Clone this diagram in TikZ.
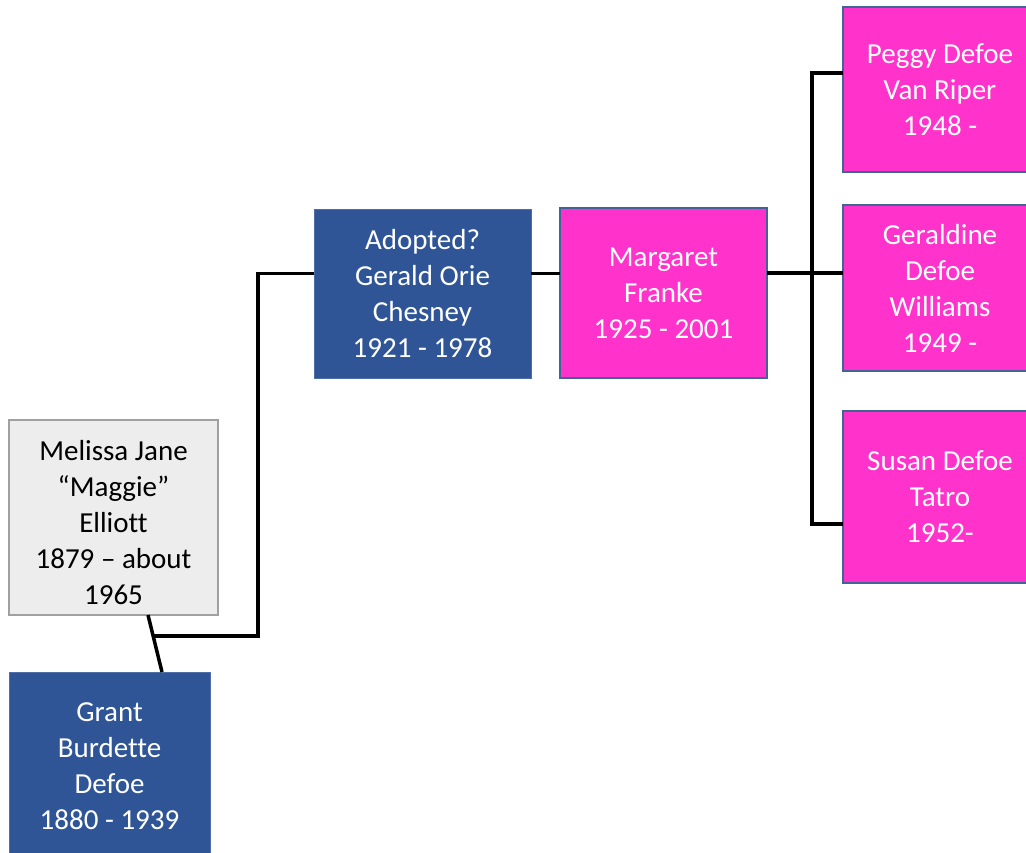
\documentclass[tikz,border=0pt]{standalone}
\usepackage{fontspec}
\setmainfont[Ligatures={NoCommon}]{Carlito}
\usepackage{xcolor}
\definecolor{maleblue}{RGB}{47, 85, 151}
\definecolor{femalepink}{RGB}{255, 51, 204}
\definecolor{edgeblue}{RGB}{65, 100, 150}
\definecolor{spousegray}{RGB}{237, 237, 237}
\definecolor{spouseedge}{RGB}{160, 160, 160}
\usepackage{tikz}
\usetikzlibrary{calc}

\begin{document}
\begin{tikzpicture}[x=1pt, y=-1pt,
    person/.style={inner sep=0pt, outer sep=0pt, align=center, text=white,
        font=\fontsize{29}{36}\selectfont},
    male/.style={person, fill=maleblue, draw=maleblue!85!white, line width=1pt},
    female/.style={person, fill=femalepink, draw=edgeblue, line width=2pt},
    spouse/.style={person, fill=spousegray, draw=spouseedge, line width=2pt, text=black},
    link/.style={line width=3.5pt, black}]
    \useasboundingbox (0,0) rectangle (1026,852);

    % Grandparents
    \node[spouse, minimum width=209pt, minimum height=195pt] (melissa) at (113.5,517.5)
        {\raisebox{-8pt}[\height][\depth]{\begin{tabular}{@{}c@{}}Melissa Jane\\“Maggie”\\Elliott\\1879 – about\\1965\end{tabular}}};
    \node[male, minimum width=201pt, minimum height=188pt] (grant) at (109.5,766)
        {Grant\\Burdette\\Defoe\\1880 - 1939};

    % Parents
    \node[male, minimum width=217pt, minimum height=169pt] (gerald) at (422.5,293.5)
        {Adopted?\\Gerald Orie\\Chesney\\1921 - 1978};
    \node[female, minimum width=207pt, minimum height=170pt] (margaret) at (663.5,293)
        {Margaret\\Franke\\1925 - 2001};

    % Children
    \def\kidx{940}
    \node[female, minimum width=194pt, minimum height=165pt] (peggy) at (\kidx,89.5)
        {Peggy Defoe\\Van Riper\\1948 -};
    \node[female, minimum width=194pt, minimum height=166pt] (geraldine) at (\kidx,288)
        {Geraldine\\Defoe\\Williams\\1949 -};
    \node[female, minimum width=194pt, minimum height=172pt] (susan) at (\kidx,497)
        {Susan Defoe\\Tatro\\1952-};

    % Marriage and descent
    \draw[link] ([xshift=34.5pt]melissa.south) -- ([xshift=52.5pt]grant.north)
        coordinate[pos=0.37] (wed);
    \draw[link] (wed) -- ++(105,0) |- ([yshift=20pt]gerald.west);
    \draw[link] ([yshift=20pt]gerald.east) -- ([yshift=20pt]gerald.east -| margaret.west);

    % Children bar
    \coordinate (bar) at (812,273);
    \draw[link] ([yshift=20pt]margaret.east) -- ([yshift=20pt]margaret.east -| geraldine.west);
    \draw[link] ([yshift=16.5pt]peggy.west) -| (bar) |- ([yshift=-27pt]susan.west);
\end{tikzpicture}
\end{document}
